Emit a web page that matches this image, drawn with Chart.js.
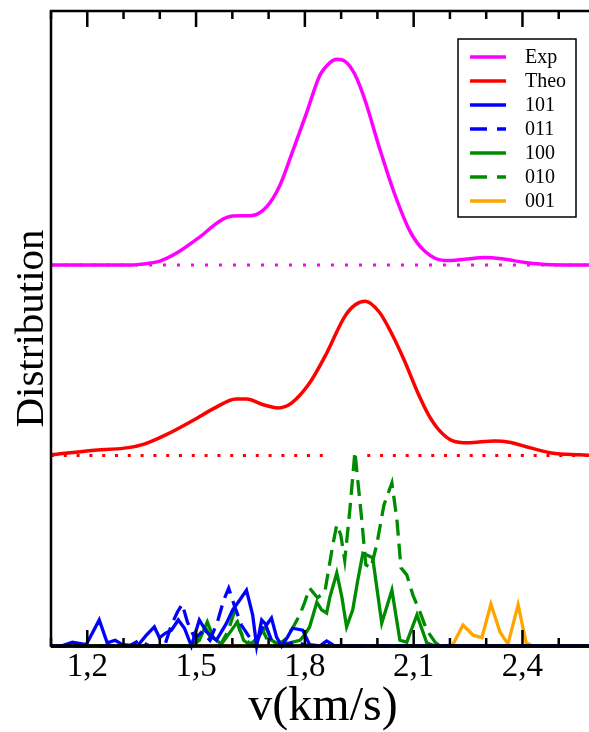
<!DOCTYPE html>
<html>
<head>
<meta charset="utf-8">
<title>Distribution</title>
<script src="https://cdn.jsdelivr.net/npm/chart.js@4.4.1/dist/chart.umd.min.js"></script>
<style>
  html, body { margin: 0; padding: 0; background: #fff; overflow: hidden; }
  #wrap { width: 600px; height: 732px; }
</style>
</head>
<body>
<div id="wrap"><canvas id="chart" width="600" height="732"></canvas></div>
<script>
// x ticks every 0.1, labels only on these
const labelledTicks = [1.2, 1.5, 1.8, 2.1, 2.4];

// vertical offsets of the three stacked panels
const expBase = 0.6;
const theoBase = 0.3;
const histBase = 0;

// Exp (smooth)
const expV = [1.10, 1.32, 1.344, 1.40, 1.45, 1.51, 1.565, 1.60, 1.655, 1.695, 1.73, 1.765, 1.805, 1.84, 1.87, 1.888,
  1.91, 1.938, 1.965, 2.007, 2.048, 2.09, 2.13, 2.186, 2.24, 2.297, 2.352, 2.407, 2.476, 2.60];
const expD = [0, 0, 0.001, 0.006, 0.020, 0.044, 0.069, 0.077, 0.078, 0.092, 0.124, 0.177, 0.240, 0.297, 0.319, 0.324,
  0.321, 0.300, 0.261, 0.182, 0.111, 0.053, 0.022, 0.007, 0.009, 0.012, 0.009, 0.004, 0.0005, 0];

// Theo (smooth)
const theoV = [1.10, 1.212, 1.308, 1.357, 1.415, 1.494, 1.552, 1.610, 1.639, 1.685, 1.726, 1.764, 1.813, 1.860, 1.909,
  1.938, 1.967, 2.005, 2.034, 2.074, 2.112, 2.141, 2.170, 2.208, 2.248, 2.324, 2.364, 2.422, 2.480, 2.556, 2.60];
const theoD = [0.001, 0.008, 0.012, 0.018, 0.032, 0.056, 0.075, 0.089, 0.089, 0.080, 0.075, 0.083, 0.114, 0.161, 0.218,
  0.237, 0.243, 0.226, 0.198, 0.150, 0.098, 0.064, 0.040, 0.023, 0.020, 0.023, 0.021, 0.012, 0.004, 0.001, 0];

// 101
const s101V = [1.10, 1.128, 1.159, 1.197, 1.233, 1.255, 1.277, 1.297, 1.338, 1.363, 1.385, 1.399, 1.415, 1.432, 1.451,
  1.468, 1.487, 1.509, 1.529, 1.556, 1.584, 1.601, 1.620, 1.639, 1.656, 1.667, 1.681, 1.694, 1.708, 1.722, 1.736,
  1.752, 1.766, 1.794, 1.813, 1.841, 1.860, 1.882, 2.60];
const s101D = [0, 0, 0.006, 0.002, 0.041, 0.005, 0.009, 0.002, 0, 0.017, 0.030, 0.013, 0.020, 0.025, 0.041,
  0.028, 0, 0.041, 0.022, 0.009, 0.036, 0.057, 0.072, 0.088, 0.049, 0, 0.041, 0.033, 0.044, 0.014, 0,
  0.014, 0.028, 0.025, 0.002, 0, 0.008, 0, 0];

// 011
const s011V = [1.10, 1.316, 1.344, 1.371, 1.413, 1.432, 1.449, 1.462, 1.476, 1.496, 1.518, 1.538, 1.559, 1.576, 1.590,
  1.606, 1.625, 1.648, 1.670, 1.689, 1.708, 1.730, 1.772, 1.813, 2.60];
const s011D = [0, 0, 0.009, 0, 0, 0.033, 0.054, 0.066, 0.038, 0.013, 0.022, 0.009, 0.038, 0.072, 0.091,
  0.063, 0.033, 0.013, 0.009, 0.038, 0.009, 0, 0.006, 0, 0];

// 100
const s100V = [1.10, 1.482, 1.509, 1.531, 1.548, 1.570, 1.598, 1.614, 1.631, 1.648, 1.670, 1.692, 1.708, 1.730, 1.758,
  1.786, 1.799, 1.813, 1.833, 1.846, 1.860, 1.869, 1.888, 1.902, 1.915, 1.932, 1.946, 1.960, 1.987, 2.012,
  2.040, 2.062, 2.081, 2.109, 2.136, 2.159, 2.60];
const s100D = [0, 0, 0.009, 0.038, 0.013, 0.003, 0.025, 0.038, 0.009, 0.002, 0.013, 0.030, 0.009, 0.002, 0.005,
  0.009, 0.017, 0.030, 0.069, 0.057, 0.052, 0.077, 0.115, 0.077, 0.030, 0.057, 0.104, 0.146, 0.139, 0.036,
  0.088, 0.009, 0.006, 0.049, 0.005, 0, 0];

// 010
const s010V = [1.10, 1.496, 1.523, 1.543, 1.565, 1.587, 1.606, 1.620, 1.636, 1.661, 1.681, 1.697, 1.717, 1.744, 1.766,
  1.786, 1.799, 1.813, 1.835, 1.855, 1.877, 1.888, 1.899, 1.910, 1.924, 1.938, 1.946, 1.957, 1.968, 1.982,
  1.998, 2.018, 2.040, 2.054, 2.065, 2.081, 2.098, 2.117, 2.136, 2.159, 2.172, 2.60];
const s010D = [0, 0, 0.033, 0.009, 0, 0.022, 0.054, 0.025, 0.009, 0, 0.028, 0.009, 0, 0.009, 0.028,
  0.049, 0.068, 0.091, 0.076, 0.085, 0.159, 0.191, 0.175, 0.135, 0.214, 0.306, 0.260, 0.198, 0.128, 0.123,
  0.159, 0.222, 0.257, 0.198, 0.123, 0.112, 0.080, 0.054, 0.025, 0.006, 0, 0];

// 001
const s001V = [1.10, 2.186, 2.208, 2.236, 2.264, 2.288, 2.313, 2.338, 2.360, 2.388, 2.410, 2.427, 2.60];
const s001D = [0, 0, 0.002, 0.033, 0.017, 0.013, 0.066, 0.022, 0.003, 0.065, 0.005, 0, 0];

// dotted zero lines (red one has a short gap)
const expZeroV = [1.10, 2.60];
const theoZeroV = [1.10, 1.862, 1.917, 1.972, 2.60];
const theoZeroOn = [true, true, false, true, true];

const serif = "'Liberation Serif', 'DejaVu Serif', serif";
const green = "rgb(0,140,0)";

function pts(vs, ds, base) {
  return vs.map((v, i) => ({ x: v, y: ds[i] + base }));
}

function series(label, vs, ds, base, color, dash) {
  return {
    label,
    data: pts(vs, ds, base),
    borderColor: color,
    backgroundColor: color,
    borderWidth: 3.3,
    borderDash: dash || [],
    pointRadius: 0,
    tension: 0,
    clip: false,
  };
}

function smooth(label, vs, ds, base, color) {
  const d = series(label, vs, ds, base, color);
  d.cubicInterpolationMode = "monotone";
  d.borderWidth = 3.5;
  return d;
}

function zeroLine(vs, on, base, color, gap) {
  return {
    label: "",
    data: vs.map((v, i) => ({ x: v, y: on[i] ? base : null })),
    borderColor: color,
    borderWidth: 3,
    borderDash: [3, gap],
    borderCapStyle: "butt",
    pointRadius: 0,
    spanGaps: false,
    clip: false,
  };
}

const isLabelled = (v) => labelledTicks.some((t) => Math.abs(t - v) < 1e-6);

const framePlugin = {
  id: "frame",
  afterDatasetsDraw(chart) {
    const { ctx, chartArea: a, scales } = chart;
    const x = scales.x;
    ctx.save();
    ctx.strokeStyle = "#000";
    ctx.lineWidth = 2.5;
    for (const t of x.ticks) {
      const px = x.getPixelForValue(t.value);
      const len = isLabelled(t.value) ? 16 : 8;
      ctx.beginPath();
      ctx.moveTo(px, a.bottom);
      ctx.lineTo(px, a.bottom - len);
      ctx.moveTo(px, a.top);
      ctx.lineTo(px, a.top + len);
      ctx.stroke();
    }
    ctx.strokeRect(a.left, a.top, a.right - a.left, a.bottom - a.top);
    ctx.lineWidth = 3.5;
    ctx.beginPath();
    ctx.moveTo(a.left, a.bottom);
    ctx.lineTo(a.right, a.bottom);
    ctx.stroke();

    // legend box
    const items = chart.data.datasets.filter((d) => d.label);
    ctx.fillStyle = "#fff";
    ctx.fillRect(458, 39, 118, 178);
    ctx.lineWidth = 1.5;
    ctx.strokeRect(458, 39, 118, 178);
    ctx.font = "20px " + serif;
    ctx.textBaseline = "middle";
    ctx.textAlign = "left";
    items.forEach((d, i) => {
      const y = 57 + i * 24;
      ctx.strokeStyle = d.borderColor;
      ctx.lineWidth = 3.5;
      ctx.setLineDash(d.borderDash.length ? [17, 10] : []);
      ctx.beginPath();
      ctx.moveTo(470, y);
      ctx.lineTo(506, y);
      ctx.stroke();
      ctx.setLineDash([]);
      ctx.fillStyle = "#000";
      ctx.fillText(d.label, 525, y + 1);
    });
    ctx.restore();
  },
};

const datasets = [
  smooth("Exp", expV, expD, expBase, "#ff00ff"),
  smooth("Theo", theoV, theoD, theoBase, "#ff0000"),
  series("101", s101V, s101D, histBase, "#0000ff"),
  series("011", s011V, s011D, histBase, "#0000ff", [16, 8]),
  series("100", s100V, s100D, histBase, green),
  series("010", s010V, s010D, histBase, green, [16, 8]),
  series("001", s001V, s001D, histBase, "#ffa500"),
  zeroLine(expZeroV, [true, true], expBase, "#ff00ff", 11),
  zeroLine(theoZeroV, theoZeroOn, theoBase, "#ff0000", 9.8),
];

new Chart(document.getElementById("chart"), {
  type: "line",
  data: { datasets },
  options: {
    responsive: false,
    animation: false,
    layout: { padding: { left: 0, right: 5, top: 11, bottom: 0 } },
    plugins: { legend: { display: false }, tooltip: { enabled: false } },
    scales: {
      x: {
        type: "linear",
        min: 1.1,
        max: 2.6,
        grid: { display: false, drawTicks: false },
        border: { display: false },
        ticks: {
          stepSize: 0.1,
          autoSkip: false,
          maxRotation: 0,
          padding: 2,
          color: "#000",
          font: { family: serif, size: 33 },
          callback: (v) => (isLabelled(v) ? v.toFixed(1).replace(".", ",") : ""),
        },
        title: {
          display: true,
          text: "v(km/s)",
          color: "#000",
          font: { family: serif, size: 48, lineHeight: 1 },
          padding: { top: 0, bottom: 1 },
        },
        afterFit: (s) => { s.height = 86; },
      },
      y: {
        min: 0,
        max: 1,
        grid: { display: false },
        border: { display: false },
        ticks: { display: false },
        title: {
          display: true,
          text: "Distribution",
          color: "#000",
          font: { family: serif, size: 41, lineHeight: 1 },
          padding: { top: 12, bottom: 0 },
        },
        afterFit: (s) => { s.width = 51; },
      },
    },
  },
  plugins: [framePlugin],
});
</script>
</body>
</html>
